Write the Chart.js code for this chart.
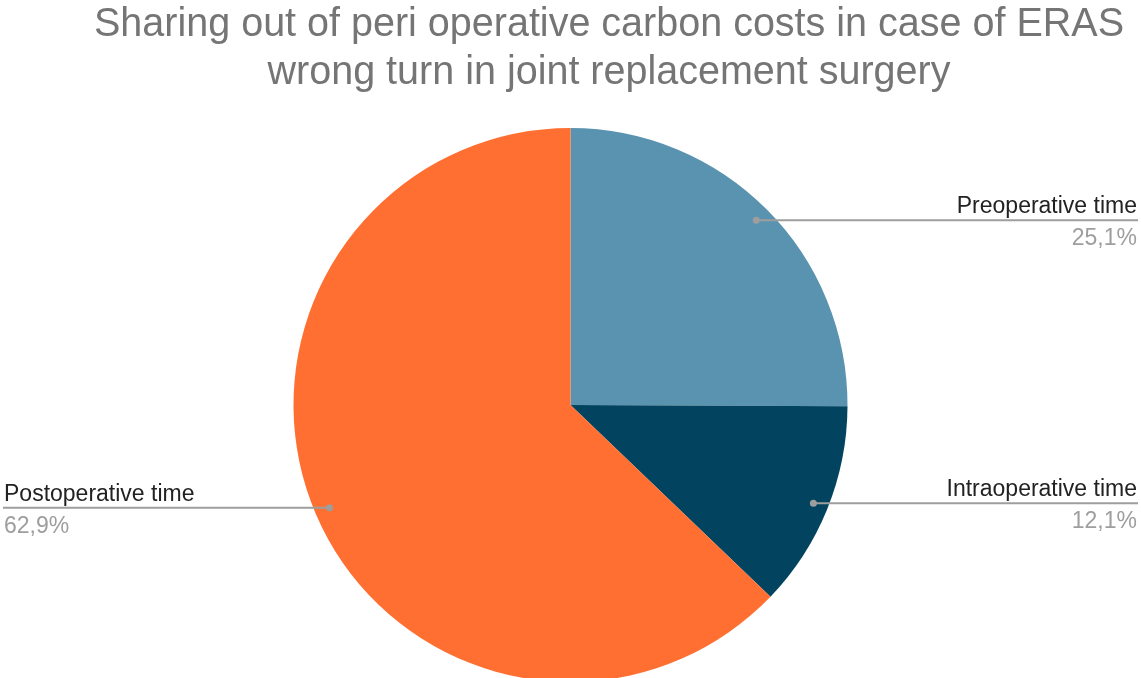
<!DOCTYPE html>
<html>
<head>
<meta charset="utf-8">
<script src="https://cdn.jsdelivr.net/npm/chart.js@4.4.0/dist/chart.umd.min.js"></script>
<style>
  html, body { margin: 0; padding: 0; background: #fff; overflow: hidden; }
  #wrap { width: 1141px; height: 690px; }
</style>
</head>
<body>
<div id="wrap"><canvas id="pieChart" width="1141" height="690"></canvas></div>
<script>
// Chart data
const categories = ['Preoperative time', 'Intraoperative time', 'Postoperative time'];
const shares = [25.1, 12.1, 62.9];
const shareLabels = ['25,1%', '12,1%', '62,9%'];
const sliceColors = ['#5A93B0', '#02445F', '#FF6F31'];
const titleLines = [
    'Sharing out of peri operative carbon costs in case of ERAS',
    'wrong turn in joint replacement surgery'
];

// Title drawn by hand so the two lines sit where the reference has them
const titlePlugin = {
    id: 'titleLines',
    afterDraw(chart) {
        const ctx = chart.ctx;
        ctx.save();
        ctx.fillStyle = '#757575';
        ctx.font = '41px "Liberation Sans", Arial, sans-serif';
        ctx.textAlign = 'center';
        ctx.textBaseline = 'alphabetic';
        const w1 = ctx.measureText(titleLines[0]).width;
        const sx = 1030 / w1; // reference font is a bit narrower
        const baselines = [36, 84];
        titleLines.forEach((line, i) => {
            ctx.save();
            ctx.translate(609, baselines[i]);
            ctx.scale(sx, 1);
            ctx.fillText(line, 0, 0);
            ctx.restore();
        });
        ctx.restore();
    }
};

// Leader lines with category name above and share below
const leaderPlugin = {
    id: 'leaderLabels',
    afterDraw(chart) {
        const ctx = chart.ctx;
        const meta = chart.getDatasetMeta(0);
        ctx.save();
        ctx.font = '23px "Liberation Sans", Arial, sans-serif';
        const sx = Math.min(1, 186 / ctx.measureText(categories[0]).width);
        meta.data.forEach((arc, i) => {
            const mid = (arc.startAngle + arc.endAngle) / 2;
            const r = arc.outerRadius * 0.946;
            const px = arc.x + Math.cos(mid) * r;
            const py = arc.y + Math.sin(mid) * r;
            const right = Math.cos(mid) >= 0;
            const endX = right ? 1138 : 3;

            ctx.strokeStyle = '#9e9e9e';
            ctx.lineWidth = 2;
            ctx.beginPath();
            ctx.moveTo(px, py);
            ctx.lineTo(endX, py);
            ctx.stroke();

            ctx.fillStyle = '#9e9e9e';
            ctx.beginPath();
            ctx.arc(px, py, 3.5, 0, Math.PI * 2);
            ctx.fill();

            ctx.textAlign = right ? 'right' : 'left';
            const tx = right ? 1137 : 4;
            ctx.save();
            ctx.translate(tx, py);
            ctx.scale(sx, 1);
            ctx.fillStyle = '#222222';
            ctx.fillText(categories[i], 0, -7);
            ctx.fillStyle = '#9e9e9e';
            ctx.fillText(shareLabels[i], 0, 25);
            ctx.restore();
        });
        ctx.restore();
    }
};

new Chart(document.getElementById('pieChart'), {
    type: 'pie',
    data: {
        labels: categories,
        datasets: [{
            data: shares,
            backgroundColor: sliceColors,
            borderWidth: 0
        }]
    },
    options: {
        responsive: false,
        animation: false,
        layout: {
            padding: { top: 128, bottom: 8, left: 0, right: 0 }
        },
        plugins: {
            legend: { display: false },
            tooltip: { enabled: false },
            title: { display: false }
        }
    },
    plugins: [titlePlugin, leaderPlugin]
});
</script>
</body>
</html>
